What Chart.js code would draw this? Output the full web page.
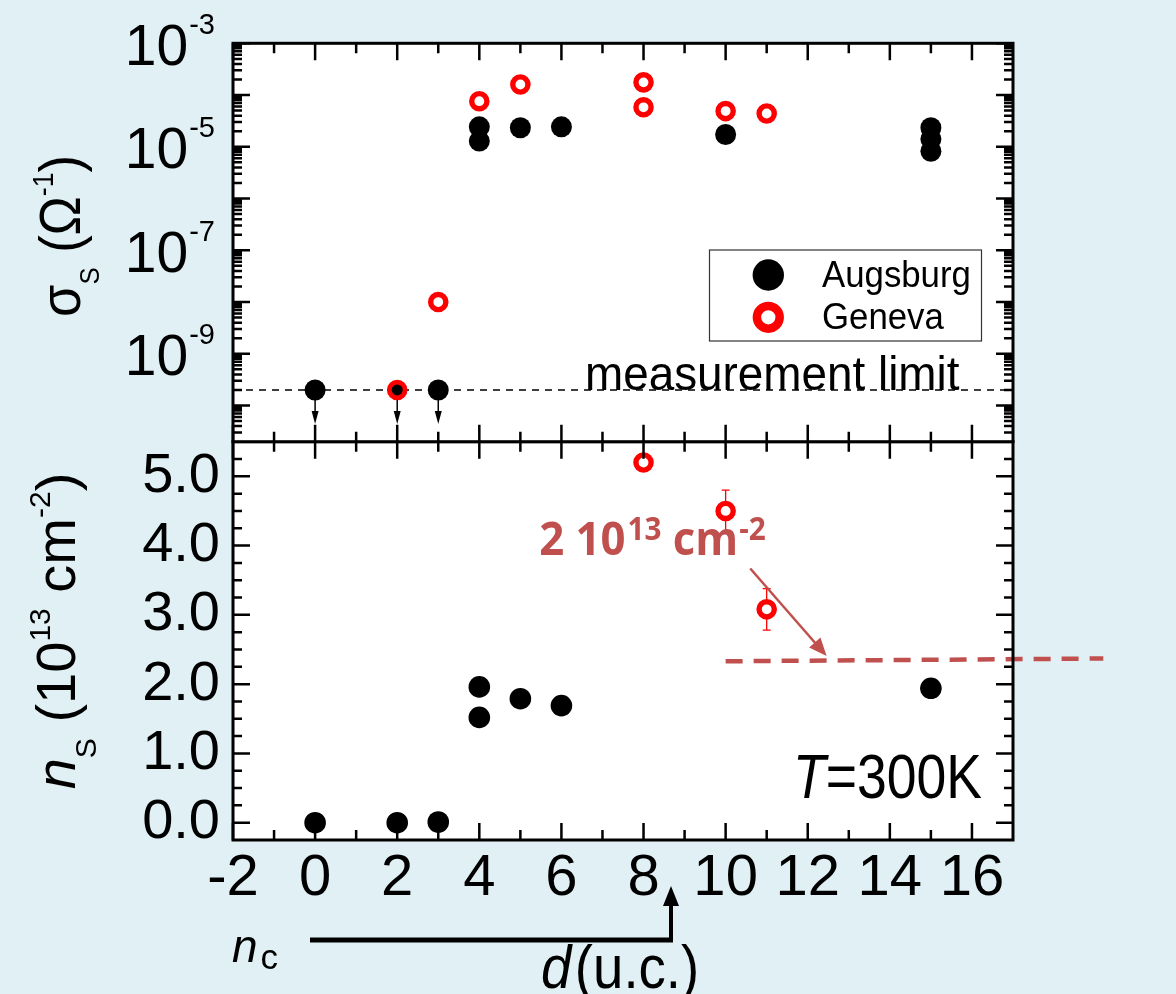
<!DOCTYPE html>
<html><head><meta charset="utf-8">
<script src="https://cdn.jsdelivr.net/npm/chart.js@4.4.1/dist/chart.umd.min.js"></script>
<style>
html,body{margin:0;padding:0;background:#e0f0f4;}
#wrap{position:relative;width:1176px;height:994px;overflow:hidden;background:#e0f0f4;}
canvas{position:absolute;left:0;top:0;}
</style></head><body>
<div id="wrap"><canvas id="cBot" width="1176" height="994"></canvas><canvas id="cTop" width="1176" height="994"></canvas></div>
<script>
// ---------- data ----------
const dTicks = [-2,0,2,4,6,8,10,12,14,16];
const sigmaExponentLabels = [-3,-5,-7,-9];
const nsTicks = [0,1,2,3,4,5];

const sigmaAugsburgD = [0,2,3,4,4,5,6,10,15,15,15];
const sigmaAugsburg  = [2e-10,2e-10,2e-10,2.43e-5,1.29e-5,2.33e-5,2.43e-5,1.73e-5,2.33e-5,1.41e-5,8.2e-6];
const sigmaGenevaD   = [2,3,4,5,8,8,10,11];
const sigmaGeneva    = [2e-10,1e-8,7.6e-5,1.6e-4,1.76e-4,5.8e-5,4.9e-5,4.4e-5];
const measurementLimit = 2e-10;
const belowLimitD = [0,2,3];
const bulletD = [20.6];
const bulletSigma = [6.2e-10];

const nsAugsburgD = [0,2,3,4,4,5,6,15];
const nsAugsburg  = [0.0,0.0,0.01,1.96,1.52,1.79,1.69,1.94];
const nsGenevaD   = [8,10,11];
const nsGeneva    = [5.2,4.5,3.08];
const nsGenevaErr = [0,0.3,0.3];
const guideD  = [10,19.2];
const guideNs = [2.33,2.37];
const noteArrowD  = [10.6,12.46];
const noteArrowNs = [3.67,2.405];
const noteTextPos = [5.46,3.86];

// ---------- helpers ----------
const FF = "'Liberation Sans', Arial, Helvetica, sans-serif";
const RED = '#ff0000', BROWN = '#c0504d';
const zip = (a,b) => a.map((v,i)=>({x:v,y:b[i]}));

function rich(ctx, x, y, parts, o={}) {
  ctx.save(); ctx.translate(x,y); if (o.rot) ctx.rotate(o.rot); ctx.scale(o.sx||1,1);
  ctx.textBaseline='alphabetic'; ctx.textAlign='left';
  let w=0; for (const p of parts){ ctx.font=p.f; p.w=ctx.measureText(p.t).width; w+=p.w+(p.g||0); }
  let cx = o.align==='center' ? -w/2 : (o.align==='right' ? -w : 0);
  for (const p of parts){ ctx.font=p.f; ctx.fillStyle=p.c||o.color||'#000'; ctx.fillText(p.t,cx,p.dy||0); cx+=p.w+(p.g||0); }
  ctx.restore();
}

function drawTicksFrame(chart, xMaj, xMin, yMaj, yMin) {
  const {ctx, chartArea:a, scales:{x,y}} = chart;
  ctx.save(); ctx.strokeStyle='#000'; ctx.lineWidth=2.5; ctx.beginPath();
  const vx=(v,len)=>{const p=x.getPixelForValue(v); ctx.moveTo(p,a.top); ctx.lineTo(p,a.top+len); ctx.moveTo(p,a.bottom); ctx.lineTo(p,a.bottom-len);};
  const vy=(v,len)=>{const p=y.getPixelForValue(v); ctx.moveTo(a.left,p); ctx.lineTo(a.left+len,p); ctx.moveTo(a.right,p); ctx.lineTo(a.right-len,p);};
  xMaj.forEach(v=>vx(v,17)); xMin.forEach(v=>vx(v,10));
  yMaj.forEach(v=>vy(v,17)); yMin.forEach(v=>vy(v,9));
  ctx.stroke();
  ctx.lineWidth=3; ctx.strokeRect(a.left,a.top,a.right-a.left,a.bottom-a.top);
  ctx.restore();
}

const xMajor = [-2,0,2,4,6,8,10,12,14,16];
const xMinor = [-1,1,3,5,7,9,11,13,15];

const logMajor=[], logMinor=[];
for (let e=-11;e<=-3;e++){ const d=Math.pow(10,e); if (d>=2e-11 && d<=1e-3) logMajor.push(d); for(let k=2;k<=9;k++){const v=k*d; if(v>2e-11 && v<1e-3) logMinor.push(v);} }
const linMinor=[]; for (let i=-1;i<=22;i++){ const v=i*0.25; if (v>-0.25 && v<5.5 && i%4!==0) linMinor.push(v); }

// ---------- top panel ----------
const topPlugin = {
  id:'topDeco',
  beforeDraw(c){ const {ctx,chartArea:a}=c; ctx.save(); ctx.fillStyle='#fff'; ctx.fillRect(a.left,a.top,a.right-a.left,a.bottom-a.top); ctx.restore(); },
  beforeDatasetsDraw(c){
    const {ctx, scales:{x,y}}=c;
    ctx.save(); ctx.strokeStyle='#000'; ctx.fillStyle='#000'; ctx.lineWidth=1.5;
    belowLimitD.forEach(d=>{
      const px=x.getPixelForValue(d), py=y.getPixelForValue(measurementLimit);
      ctx.beginPath(); ctx.moveTo(px,py); ctx.lineTo(px,py+24); ctx.stroke();
      ctx.beginPath(); ctx.moveTo(px-3.5,py+21); ctx.lineTo(px+3.5,py+21); ctx.lineTo(px,py+34); ctx.closePath(); ctx.fill();
    });
    ctx.restore();
  },
  afterDatasetsDraw(c){
    const {ctx, scales:{x,y}}=c;
    rich(ctx, 585, y.getPixelForValue(measurementLimit), [{t:'measurement limit', f:`48px ${FF}`}], {sx:0.955});
    ctx.save();
    ctx.fillStyle='#fff'; ctx.fillRect(709.5,250,272,91);
    ctx.strokeStyle='#333'; ctx.lineWidth=1.2; ctx.strokeRect(709.5,250,272,91);
    ctx.fillStyle='#000'; ctx.beginPath(); ctx.arc(768.3,275,15.7,0,Math.PI*2); ctx.fill();
    ctx.strokeStyle=RED; ctx.lineWidth=8.5; ctx.beginPath(); ctx.arc(768.3,317.3,11.4,0,Math.PI*2); ctx.stroke();
    ctx.restore();
    rich(ctx, 822, 287, [{t:'Augsburg', f:`37px ${FF}`}], {sx:0.94});
    rich(ctx, 822, 329, [{t:'Geneva', f:`37px ${FF}`}], {sx:0.94});
    drawTicksFrame(c, xMajor, xMinor, logMajor, logMinor);
    sigmaExponentLabels.forEach(e=>{
      const py=y.getPixelForValue(Math.pow(10,e));
      rich(ctx, 215, py+21.5, [{t:'10', f:`57px ${FF}`, g:1},{t:'-'+Math.abs(e), f:`29px ${FF}`, dy:-31}], {align:'right'});
    });
    rich(ctx, 80, 236, [
      {t:'\u03C3', f:`57px ${FF}`},
      {t:'S', f:`28px ${FF}`, dy:19},
      {t:' (\u03A9', f:`57px ${FF}`},
      {t:'-1', f:`29px ${FF}`, dy:-27},
      {t:')', f:`57px ${FF}`}
    ], {rot:-Math.PI/2, align:'center', sx:0.92});
  }
};

new Chart(document.getElementById('cTop'), {
  type:'scatter',
  data:{datasets:[
    {label:'Augsburg', data:zip(sigmaAugsburgD,sigmaAugsburg), order:1,
     pointRadius: ctx=>{const i=ctx.dataIndex; return sigmaGenevaD.some((d,j)=>d===sigmaAugsburgD[i]&&sigmaGeneva[j]===sigmaAugsburg[i])?5.5:10.5;},
     backgroundColor:'#000', borderWidth:0},
    {label:'Geneva', data:zip(sigmaGenevaD,sigmaGeneva), order:2,
     pointRadius:7.6, borderWidth:5.4, borderColor:RED, backgroundColor:'#fff'},
    {label:'measurement limit', data:[{x:-2,y:measurementLimit},{x:17,y:measurementLimit}], order:10,
     showLine:true, pointRadius:0, borderColor:'#000', borderWidth:1.5, borderDash:[7,6]},
    {label:'bullet', data:zip(bulletD,bulletSigma), order:3, clip:false,
     pointRadius:8.3, backgroundColor:BROWN, borderColor:'#111', borderWidth:1.8}
  ]},
  options:{
    responsive:false, animation:false, events:[],
    layout:{padding:{left:233, right:163, top:43.3, bottom:994-441.7}},
    plugins:{legend:{display:false}, tooltip:{enabled:false}},
    scales:{
      x:{type:'linear', min:-2, max:17, display:false},
      y:{type:'logarithmic', min:2e-11, max:1e-3, display:false}
    }
  },
  plugins:[topPlugin]
});

// ---------- bottom panel ----------
const botPlugin = {
  id:'botDeco',
  beforeDraw(c){ const {ctx,chartArea:a}=c; ctx.save(); ctx.fillStyle='#fff'; ctx.fillRect(a.left,a.top,a.right-a.left,a.bottom-a.top); ctx.restore(); },
  beforeDatasetsDraw(c){
    const {ctx, scales:{x,y}}=c;
    ctx.save(); ctx.strokeStyle=RED; ctx.lineWidth=1.3;
    nsGenevaD.forEach((d,i)=>{
      const e=nsGenevaErr[i]; if(!e) return;
      const px=x.getPixelForValue(d), p1=y.getPixelForValue(nsGeneva[i]+e), p2=y.getPixelForValue(nsGeneva[i]-e);
      ctx.beginPath(); ctx.moveTo(px,p1); ctx.lineTo(px,p2);
      ctx.moveTo(px-4,p1); ctx.lineTo(px+4,p1); ctx.moveTo(px-4,p2); ctx.lineTo(px+4,p2); ctx.stroke();
    });
    ctx.restore();
  },
  afterDatasetsDraw(c){
    const {ctx, scales:{x,y}}=c;
    const ax1=x.getPixelForValue(noteArrowD[0]), ay1=y.getPixelForValue(noteArrowNs[0]);
    const ax2=x.getPixelForValue(noteArrowD[1]), ay2=y.getPixelForValue(noteArrowNs[1]);
    const ang=Math.atan2(ay2-ay1, ax2-ax1);
    ctx.save(); ctx.strokeStyle=BROWN; ctx.fillStyle=BROWN; ctx.lineWidth=2.5;
    ctx.beginPath(); ctx.moveTo(ax1,ay1); ctx.lineTo(ax2-14*Math.cos(ang), ay2-14*Math.sin(ang)); ctx.stroke();
    ctx.beginPath(); ctx.moveTo(ax2,ay2);
    ctx.lineTo(ax2-18*Math.cos(ang)+7.5*Math.sin(ang), ay2-18*Math.sin(ang)-7.5*Math.cos(ang));
    ctx.lineTo(ax2-18*Math.cos(ang)-7.5*Math.sin(ang), ay2-18*Math.sin(ang)+7.5*Math.cos(ang));
    ctx.closePath(); ctx.fill(); ctx.restore();
    const bf = "'Open Sans', 'Liberation Sans', sans-serif";
    rich(ctx, x.getPixelForValue(noteTextPos[0]), y.getPixelForValue(noteTextPos[1]), [
      {t:'2 10', f:`bold 47px ${bf}`, g:2},
      {t:'13', f:`bold 32px ${bf}`, dy:-15},
      {t:' cm', f:`bold 47px ${bf}`, g:1},
      {t:'-2', f:`bold 32px ${bf}`, dy:-15}
    ], {sx:0.93, color:BROWN});
    rich(ctx, 793, 798, [{t:'T', f:`italic 63px ${FF}`},{t:'=300K', f:`63px ${FF}`}], {sx:0.85});
    drawTicksFrame(c, xMajor, xMinor, nsTicks, linMinor);
    rich(ctx, 75, 631, [
      {t:'n', f:`italic 56px ${FF}`},
      {t:'S', f:`30px ${FF}`, dy:21},
      {t:' (10', f:`56px ${FF}`},
      {t:'13', f:`30px ${FF}`, dy:-25},
      {t:' cm', f:`56px ${FF}`},
      {t:'-2', f:`30px ${FF}`, dy:-25},
      {t:')', f:`56px ${FF}`}
    ], {rot:-Math.PI/2, align:'center'});
    ctx.save(); ctx.strokeStyle='#000'; ctx.fillStyle='#000';
    ctx.lineWidth=5; ctx.beginPath(); ctx.moveTo(310,940); ctx.lineTo(673,940); ctx.stroke();
    ctx.lineWidth=4; ctx.beginPath(); ctx.moveTo(671,942); ctx.lineTo(671,903); ctx.stroke();
    ctx.beginPath(); ctx.moveTo(671,886); ctx.lineTo(663,906); ctx.lineTo(679,906); ctx.closePath(); ctx.fill();
    ctx.restore();
    rich(ctx, 232, 962, [{t:'n', f:`italic 46px ${FF}`, g:3},{t:'c', f:`35px ${FF}`, dy:7}]);
    rich(ctx, 541, 988, [{t:'d', f:`italic 62px ${FF}`, g:4},{t:'(u.c.)', f:`62px ${FF}`}], {sx:0.88});
  }
};

new Chart(document.getElementById('cBot'), {
  type:'scatter',
  data:{datasets:[
    {label:'Augsburg', data:zip(nsAugsburgD,nsAugsburg), order:1, pointRadius:10.8, backgroundColor:'#000', borderWidth:0},
    {label:'Geneva', data:zip(nsGenevaD,nsGeneva), order:2, pointRadius:7.6, borderWidth:5.4, borderColor:RED, backgroundColor:'#fff'},
    {label:'2e13 level', data:zip(guideD,guideNs), order:10, clip:false, showLine:true, pointRadius:0,
     borderColor:BROWN, borderWidth:4.5, borderDash:[17,11]}
  ]},
  options:{
    responsive:false, animation:false, events:[],
    layout:{padding:{left:0, right:163, top:441.7, bottom:0}},
    plugins:{legend:{display:false}, tooltip:{enabled:false}},
    scales:{
      x:{type:'linear', min:-2, max:17,
         afterBuildTicks:s=>{s.ticks=dTicks.map(v=>({value:v}));},
         afterFit:s=>{s.height=154;},
         grid:{display:false, drawTicks:false}, border:{display:false},
         ticks:{font:{family:FF,size:58,lineHeight:1.2}, color:'#000', padding:4, maxRotation:0, autoSkip:false, callback:v=>String(v)}},
      y:{type:'linear', min:-0.25, max:5.5,
         afterBuildTicks:s=>{s.ticks=nsTicks.map(v=>({value:v}));},
         afterFit:s=>{s.width=233;},
         grid:{display:false, drawTicks:false}, border:{display:false},
         ticks:{font:{family:FF,size:56,lineHeight:1.2}, color:'#000', padding:13, callback:v=>Number(v).toFixed(1)}}
    }
  },
  plugins:[botPlugin]
});
</script>
</body></html>
